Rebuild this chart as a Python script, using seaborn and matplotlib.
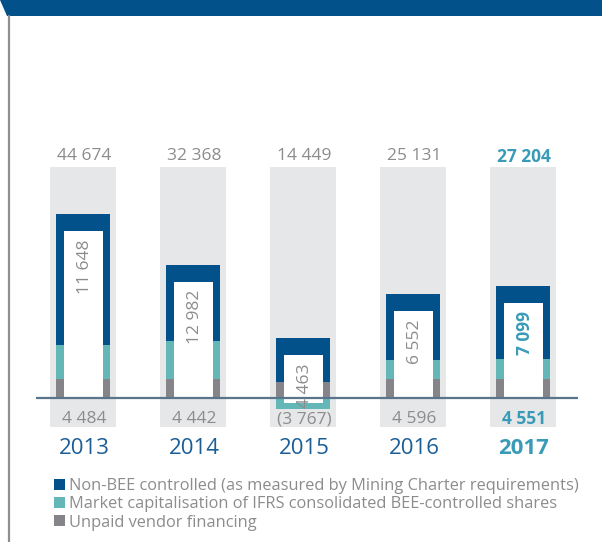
import numpy as np
import pandas as pd
import matplotlib
matplotlib.use("Agg")
import matplotlib.pyplot as plt
from matplotlib.patches import Rectangle, Polygon
from matplotlib.lines import Line2D
import seaborn as sns

# ---- data -----------------------------------------------------------------
years = ["2013", "2014", "2015", "2016", "2017"]
total_value = [44674, 32368, 14449, 25131, 27204]
bee_value = [11648, 12982, 4463, 6552, 7099]
vendor_financing = [4484, 4442, -3767, 4596, 4551]
market_cap = [8300, 9300, -2700, 4600, 4900]

legend_labels = [
    "Non-BEE controlled (as measured by Mining Charter requirements)",
    "Market capitalisation of IFRS consolidated BEE-controlled shares",
    "Unpaid vendor financing",
]

# ---- styling --------------------------------------------------------------
NAVY = "#02518b"
TEAL = "#63b8b7"
SLATE = "#858589"
PANEL = "#e6e7e9"
TEXT_GREY = "#8c8c8c"
YEAR_BLUE = "#1b5d96"
HILITE = "#3a9bb8"
BASELINE = "#58758c"

sns.set_theme(style="white")
plt.rcParams["font.family"] = ["Open Sans", "DejaVu Sans"]

W, H = 602, 542
DPI = 100
fig = plt.figure(figsize=(W / DPI, H / DPI), dpi=DPI)

# axes spans the plot strip horizontally and the whole height vertically,
# so pixel offsets convert to data units with a single factor
x_left_px, x_right_px = 36, 578
ax = fig.add_axes([x_left_px / W, 0, (x_right_px - x_left_px) / W, 1])
ax.set_axis_off()

PX_PER_UNIT = 0.0041          # vertical scale (pixels per R million)
BASE_PX = 397.5               # baseline, pixels from top
def px(n):                    # pixel length -> data length
    return n / PX_PER_UNIT
def ypix(p):                  # pixel row (from top) -> data value
    return (BASE_PX - p) / PX_PER_UNIT

CAT_PX = 110.0                # pixel distance between categories
x0_px = 83.0                  # pixel centre of first category

n = len(years)
pos = np.arange(n)
total = np.array(total_value, float)
vendor = np.abs(np.array(vendor_financing, float))
mcap = np.array(market_cap, float)
teal_top = np.where(mcap >= 0, vendor + mcap, mcap)

# light panels behind each year
panel_top, panel_bot = ypix(167), ypix(427)
ax.bar(pos, panel_top - panel_bot, bottom=panel_bot, width=66 / CAT_PX,
       color=PANEL, linewidth=0, zorder=0.5)

# stacked bars, drawn as cumulative layers (back to front)
df = pd.DataFrame({"year": years, "total": total, "teal": teal_top,
                   "vendor": vendor})
bw = 54 / CAT_PX
for col, colr in [("total", NAVY), ("teal", TEAL), ("vendor", SLATE)]:
    sns.barplot(data=df, x="year", y=col, color=colr, saturation=1,
                width=bw, errorbar=None, linewidth=0, ax=ax, zorder=1)
ax.set_xlim((x_left_px - x0_px) / CAT_PX, (x_right_px - x0_px) / CAT_PX)
ax.set_ylim(ypix(H), ypix(0))
ax.set_axis_off()

# white inset window in each bar
ww = 39 / CAT_PX
for i in range(n):
    top = total[i] - px(17)
    bot = -px(5) if mcap[i] < 0 else 0
    ax.add_patch(Rectangle((pos[i] - ww / 2 + 0.5 / CAT_PX, bot), ww, top - bot,
                           facecolor="white", edgecolor="none", zorder=2))

# baseline
ax.axhline(0, color=BASELINE, lw=1.6, zorder=3)

def fmt(v):
    s = f"{abs(v):,}".replace(",", " ")
    return f"({s})" if v < 0 else s

for i in range(n):
    last = i == n - 1
    c = HILITE if last else TEXT_GREY
    fw = "bold" if last else "normal"
    ax.text(pos[i] + 1 / CAT_PX, ypix(156.5), fmt(total_value[i]), ha="center",
            va="center", fontsize=12.5, color=c, fontweight=fw, zorder=4)
    ax.text(pos[i] + 2 / CAT_PX, total[i] - px(17 + 8), fmt(bee_value[i]),
            rotation=90, ha="center", va="top", fontsize=12.5, color=c,
            fontweight=fw, zorder=4)
    ax.text(pos[i] + 1 / CAT_PX, ypix(419), fmt(vendor_financing[i]),
            ha="center", va="center", fontsize=12.5, color=c, fontweight=fw,
            zorder=4)
    ax.text(pos[i] + 1 / CAT_PX, ypix(448), years[i], ha="center",
            va="center", fontsize=16, color=HILITE if last else YEAR_BLUE,
            fontweight=fw, zorder=4)

# header band with slanted left edge and left rule
fig.patches.append(Polygon([(0, 1), (1, 1), (1, 1 - 16 / H), (7 / W, 1 - 16 / H)],
                           closed=True, transform=fig.transFigure,
                           facecolor=NAVY, edgecolor="none"))
fig.lines.append(Line2D([9 / W, 9 / W], [0, 1 - 16 / H], transform=fig.transFigure,
                        color="#8f8f8f", lw=1.6))

# legend
for k, (lab, colr) in enumerate(zip(legend_labels, [NAVY, TEAL, SLATE])):
    yc = 484 + k * 18.3
    fig.patches.append(Rectangle((54 / W, 1 - (yc + 5.5) / H), 11 / W, 11 / H,
                                 transform=fig.transFigure, facecolor=colr,
                                 edgecolor="none"))
    fig.text(69 / W, 1 - yc / H, lab, ha="left", va="center_baseline",
             fontsize=11.8, color=TEXT_GREY)

fig.savefig("out.png", dpi=DPI)
